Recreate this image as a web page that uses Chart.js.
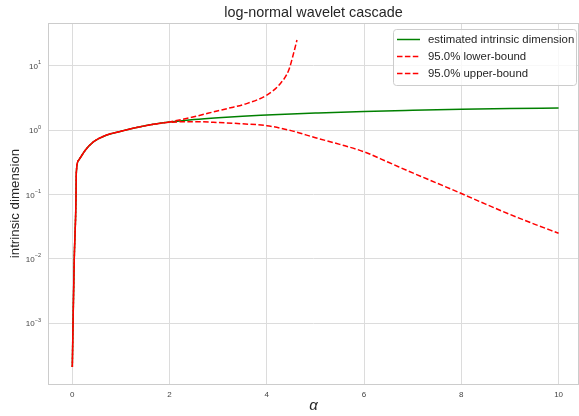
<!DOCTYPE html>
<html>
<head>
<meta charset="utf-8">
<script src="https://cdn.jsdelivr.net/npm/chart.js@4"></script>
<style>
  html, body { margin: 0; padding: 0; background: #fff; }
</style>
</head>
<body>
<canvas id="chart" width="579" height="416"></canvas>
<script>
// ---------- Data ----------
const estAlpha = [0, 0.015, 0.04, 0.075, 0.082, 0.13, 0.27, 0.44, 0.71, 1.0, 1.4, 1.7, 2.0,
  2.5, 3.0, 3.5, 4.0, 4.5, 5.0, 6.0, 7.0, 8.0, 9.0, 10.0];
const estDim = [2.1e-4, 1e-3, 1e-2, 0.082, 0.215, 0.34, 0.49, 0.66, 0.84, 0.96, 1.13, 1.24, 1.33,
  1.46, 1.56, 1.64, 1.71, 1.78, 1.84, 1.95, 2.03, 2.1, 2.16, 2.2];

const lowAlpha = [0, 0.015, 0.04, 0.075, 0.082, 0.13, 0.27, 0.44, 0.71, 1.0, 1.4, 1.7, 2.0,
  2.5, 3.0, 3.5, 4.0, 4.5, 5.0, 5.5, 6.0, 6.5, 7.0, 7.5, 8.0, 8.5, 9.0, 9.5, 10.0];
const lowDim = [2.1e-4, 1e-3, 1e-2, 0.082, 0.215, 0.34, 0.49, 0.66, 0.84, 0.96, 1.13, 1.24, 1.32,
  1.35, 1.31, 1.25, 1.17, 0.98, 0.76, 0.6, 0.46, 0.316, 0.216, 0.15, 0.1035, 0.0708, 0.049, 0.0347, 0.025];

const upAlpha = [0, 0.015, 0.04, 0.075, 0.082, 0.13, 0.27, 0.44, 0.71, 1.0, 1.4, 1.7, 2.0,
  2.5, 3.0, 3.2, 3.6, 4.0, 4.28, 4.45, 4.55, 4.62];
const upDim = [2.1e-4, 1e-3, 1e-2, 0.082, 0.215, 0.34, 0.49, 0.66, 0.84, 0.96, 1.13, 1.24, 1.34,
  1.61, 2.0, 2.17, 2.6, 3.5, 5.3, 8.5, 15.5, 25];

const xTicks = [0, 2, 4, 6, 8, 10];
const yTicks = [0.001, 0.01, 0.1, 1, 10];
const yTickExp = ['\u22123', '\u22122', '\u22121', '0', '1'];

const FONT = '"Liberation Sans", Arial, sans-serif';

function toPoints(xs, ys) {
  return xs.map((x, i) => ({ x, y: ys[i] }));
}

// ---------- Extra drawing: title, spines, y tick labels, legend ----------
const decorations = {
  id: 'decorations',
  afterDraw(chart) {
    const ctx = chart.ctx;
    const area = chart.chartArea;
    ctx.save();

    // spines
    ctx.strokeStyle = '#cccccc';
    ctx.lineWidth = 1;
    ctx.strokeRect(area.left + 0.5, area.top + 0.5, area.right - area.left - 1, area.bottom - area.top);

    // title
    ctx.fillStyle = '#262626';
    ctx.font = '14.4px ' + FONT;
    ctx.textAlign = 'center';
    ctx.textBaseline = 'middle';
    ctx.fillText('log-normal wavelet cascade', (area.left + area.right) / 2, 13);

    // y tick labels with superscript exponent
    const yScale = chart.scales.y;
    yTicks.forEach((v, i) => {
      const y = yScale.getPixelForValue(v);
      ctx.font = '5.5px ' + FONT;
      const expW = ctx.measureText(yTickExp[i]).width;
      const right = 41;
      ctx.fillStyle = '#444';
      ctx.textAlign = 'left';
      ctx.textBaseline = 'middle';
      ctx.fillText(yTickExp[i], right - expW, y - 3);
      ctx.font = '8px ' + FONT;
      ctx.textAlign = 'right';
      ctx.fillText('10', right - expW, y + 1);
    });

    // legend
    const bx = 393, by = 29, bw = 183, bh = 56;
    ctx.fillStyle = 'rgba(255,255,255,0.8)';
    ctx.strokeStyle = '#cccccc';
    ctx.beginPath();
    ctx.roundRect(bx + 0.5, by + 0.5, bw, bh, 3);
    ctx.fill();
    ctx.stroke();
    chart.data.datasets.forEach((ds, i) => {
      const ry = 39.5 + i * 17;
      ctx.strokeStyle = ds.borderColor;
      ctx.lineWidth = ds.borderWidth;
      ctx.setLineDash(ds.borderDash || []);
      ctx.beginPath();
      ctx.moveTo(397, ry);
      ctx.lineTo(420, ry);
      ctx.stroke();
      ctx.setLineDash([]);
      ctx.fillStyle = '#262626';
      ctx.font = '11.4px ' + FONT;
      ctx.textAlign = 'left';
      ctx.textBaseline = 'middle';
      ctx.fillText(ds.label, 428, ry);
    });

    ctx.restore();
  }
};

// ---------- Chart ----------
const ctx = document.getElementById('chart').getContext('2d');
const chart = new Chart(ctx, {
  type: 'line',
  data: {
    datasets: [
      {
        label: 'estimated intrinsic dimension',
        data: toPoints(estAlpha, estDim),
        borderColor: '#008000',
        borderWidth: 1.5,
        pointRadius: 0,
        order: 3,
        cubicInterpolationMode: 'monotone'
      },
      {
        label: '95.0% lower-bound',
        data: toPoints(upAlpha, upDim),
        borderColor: '#ff0000',
        borderWidth: 1.5,
        borderDash: [5.5, 2.4],
        pointRadius: 0,
        order: 2,
        cubicInterpolationMode: 'monotone'
      },
      {
        label: '95.0% upper-bound',
        data: toPoints(lowAlpha, lowDim),
        borderColor: '#ff0000',
        borderWidth: 1.5,
        borderDash: [5.5, 2.4],
        borderDashOffset: 3.95,
        pointRadius: 0,
        order: 1,
        cubicInterpolationMode: 'monotone'
      }
    ]
  },
  options: {
    responsive: false,
    animation: false,
    devicePixelRatio: 1,
    layout: { padding: { top: 23, right: 0, bottom: 0, left: 0 } },
    plugins: {
      legend: { display: false },
      title: { display: false },
      tooltip: { enabled: false }
    },
    scales: {
      x: {
        type: 'linear',
        min: -0.5,
        max: 10.42,
        afterBuildTicks: s => { s.ticks = xTicks.map(v => ({ value: v })); },
        afterFit: s => { s.height = 32; },
        grid: { color: '#dcdcdc', drawTicks: false },
        border: { display: false },
        ticks: {
          color: '#444',
          font: { size: 8, family: FONT },
          padding: 6,
          maxRotation: 0,
          autoSkip: false
        },
        title: {
          display: true,
          text: 'α',
          color: '#262626',
          font: { size: 15, style: 'italic', family: FONT },
          padding: { top: 0, bottom: 1 }
        }
      },
      y: {
        type: 'logarithmic',
        min: 1.14e-4,
        max: 46,
        afterBuildTicks: s => { s.ticks = yTicks.map(v => ({ value: v })); },
        afterFit: s => { s.width = 48; },
        grid: { color: '#dcdcdc', drawTicks: false },
        border: { display: false },
        ticks: { display: false },
        title: {
          display: true,
          text: 'intrinsic dimension',
          color: '#262626',
          font: { size: 13.3, family: FONT },
          padding: { top: 7, bottom: 0 }
        }
      }
    }
  },
  plugins: [decorations]
});
</script>
</body>
</html>
